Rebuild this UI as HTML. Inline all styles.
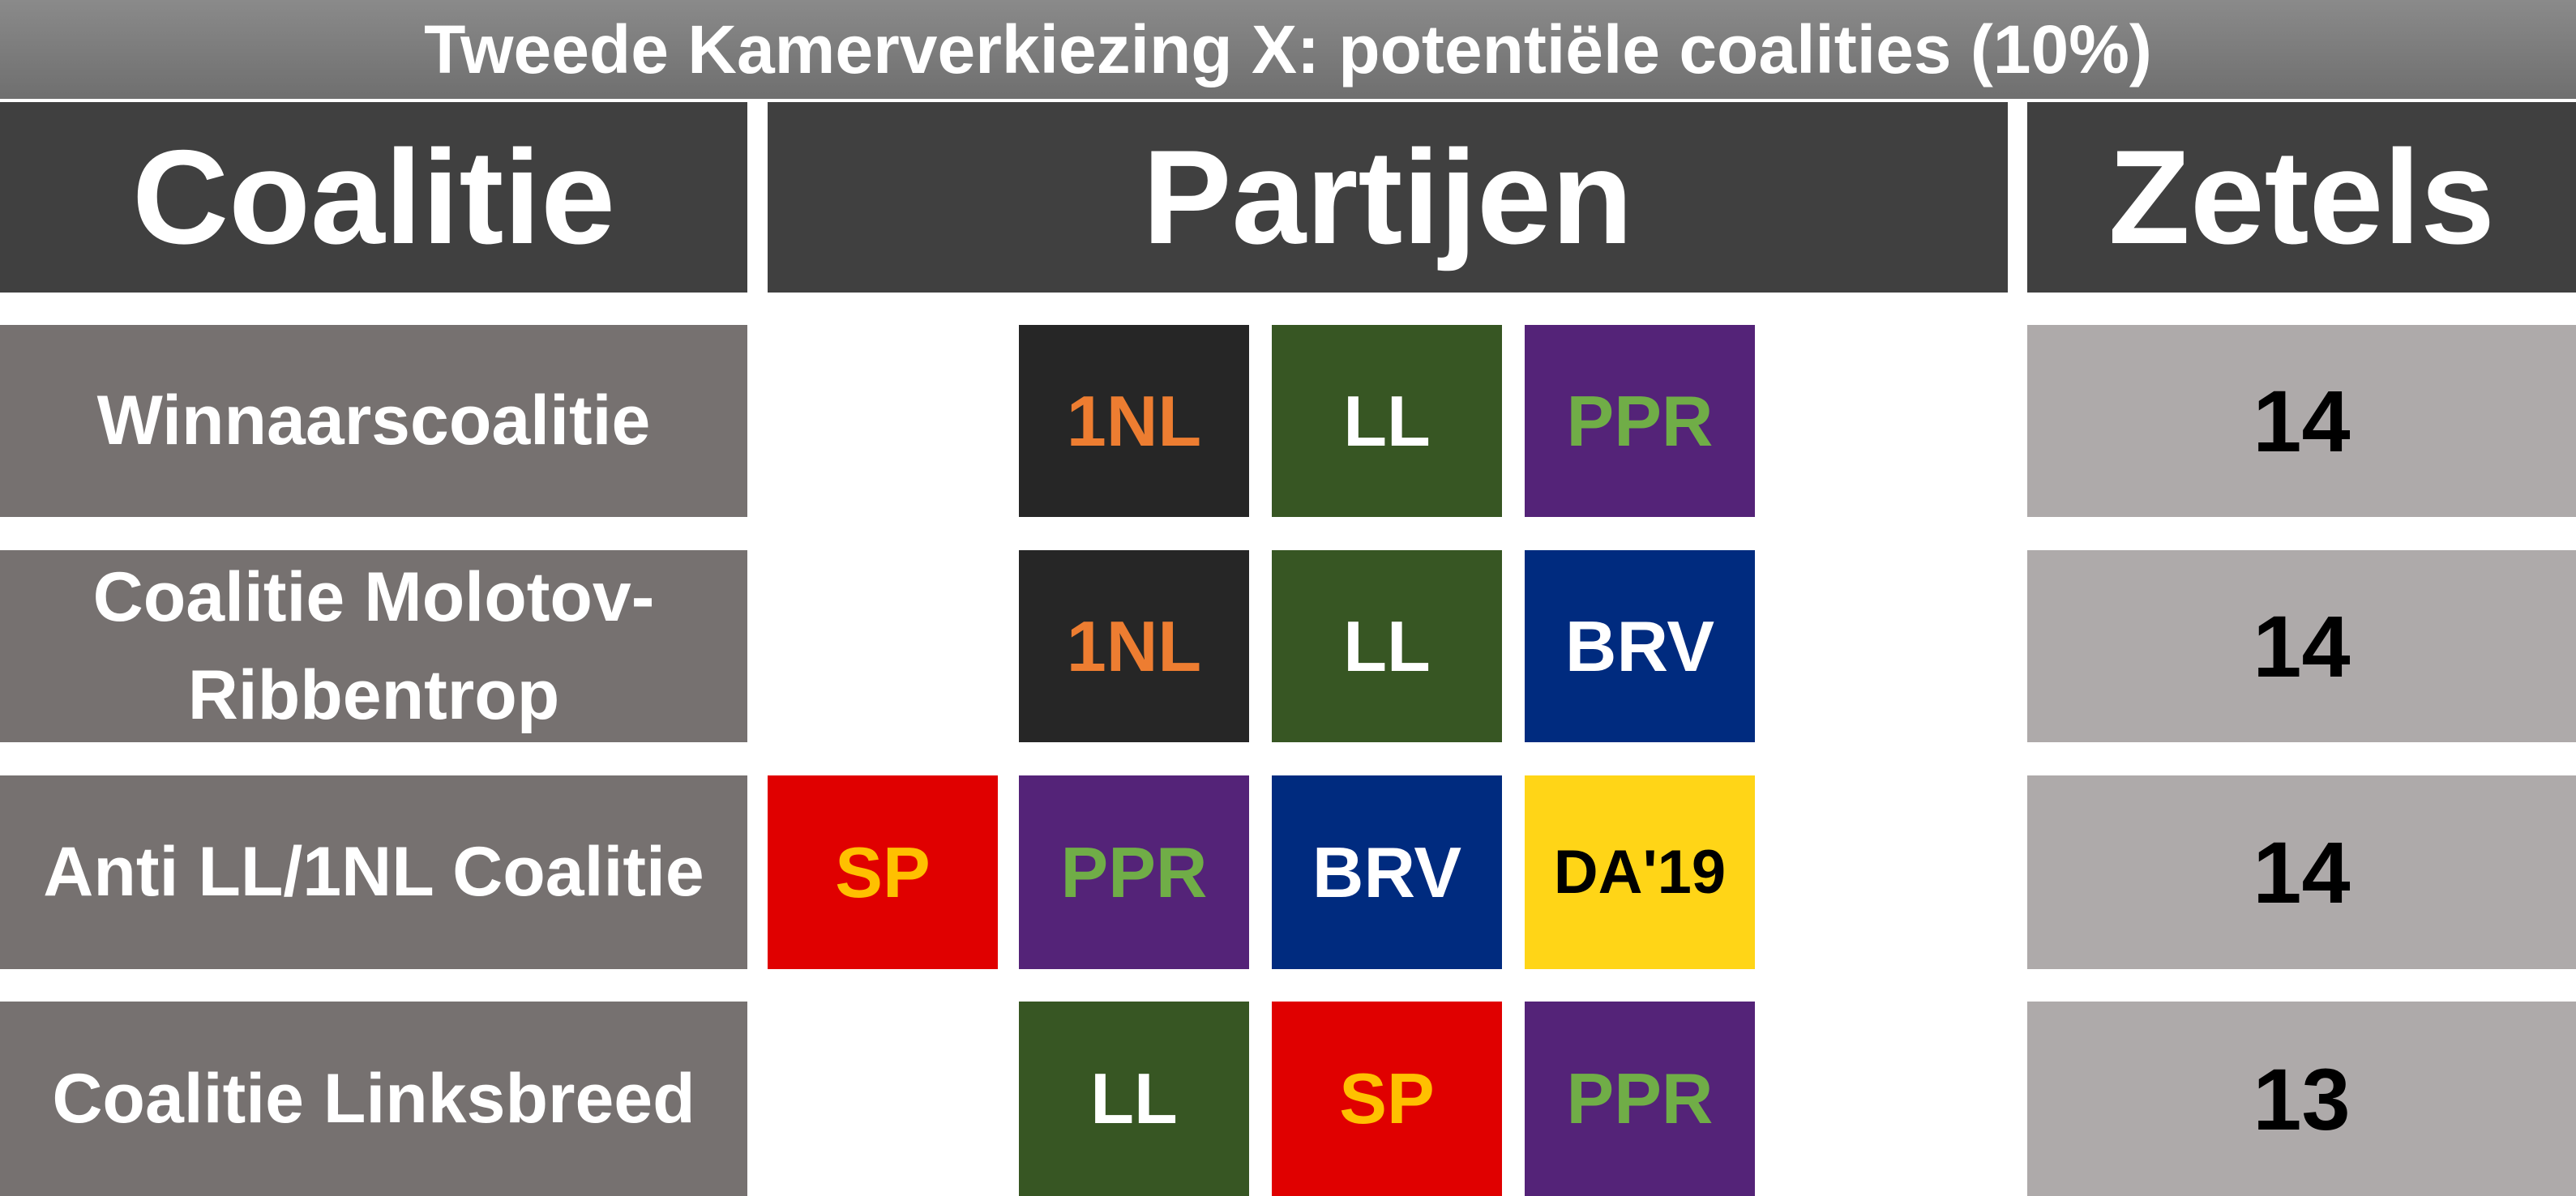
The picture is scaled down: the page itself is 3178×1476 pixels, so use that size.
<!DOCTYPE html>
<html><head><meta charset="utf-8"><style>
body{margin:0;width:3178px;height:1476px;background:#fff;position:relative;overflow:hidden;font-family:"Liberation Sans",sans-serif;font-weight:bold}
.a{position:absolute;display:flex;align-items:center;justify-content:center;text-align:center;box-sizing:border-box}
.title{left:0;top:0;width:3178px;height:122px;background:linear-gradient(#8a8a8a,#6f6f6f);color:#fff;font-size:84px}
.hd{top:126px;height:235px;background:#404040;color:#fff;font-size:165px}
.co{left:0;width:922px;background:#767170;color:#fff;font-size:86px;line-height:1.4}
.ze{left:2501px;width:677px;background:#AEAAAA;color:#000;font-size:108px}
.p{width:284px;font-size:88px}
</style></head><body>
<div class="a title">Tweede Kamerverkiezing X: potentiële coalities (10%)</div>
<div class="a hd" style="left:0;width:922px">Coalitie</div>
<div class="a hd" style="left:947px;width:1530px">Partijen</div>
<div class="a hd" style="left:2501px;width:677px">Zetels</div>
<div id="rows"></div>
<script>
const coalitions=["Winnaarscoalitie","Coalitie Molotov-<br>Ribbentrop","Anti LL/1NL Coalitie","Coalitie Linksbreed"];
const seats=[14,14,14,13];
const parties=[[null,"1NL","LL","PPR"],[null,"1NL","LL","BRV"],["SP","PPR","BRV","DA'19"],[null,"LL","SP","PPR"]];
const colors={"1NL":["#262626","#ED7D31"],"LL":["#375623","#fff"],"PPR":["#542378","#70AD47"],"BRV":["#002B7F","#fff"],"SP":["#E00000","#FFC000"],"DA'19":["#FFD517","#000"]};
const rowTops=[401,679,957,1236],rowH=[237,237,239,240],px=[947,1257,1569,1881];
const root=document.getElementById('rows');
coalitions.forEach((c,i)=>{
  let d=document.createElement('div');d.className='a co';d.style.top=rowTops[i]+'px';d.style.height=rowH[i]+'px';d.innerHTML=c;
  
  
  root.appendChild(d);
  let z=document.createElement('div');z.className='a ze';z.style.top=rowTops[i]+'px';z.style.height=rowH[i]+'px';z.textContent=seats[i];
  
  
  root.appendChild(z);
  parties[i].forEach((p,j)=>{
    if(!p)return;
    let b=document.createElement('div');b.className='a p';b.style.left=px[j]+'px';b.style.top=rowTops[i]+'px';b.style.height=rowH[i]+'px';
    b.style.background=colors[p][0];b.style.color=colors[p][1];b.textContent=p;
    if(p==="DA'19")b.style.fontSize='76px';
    
    
    root.appendChild(b);
  });
});
</script>
</body></html>
